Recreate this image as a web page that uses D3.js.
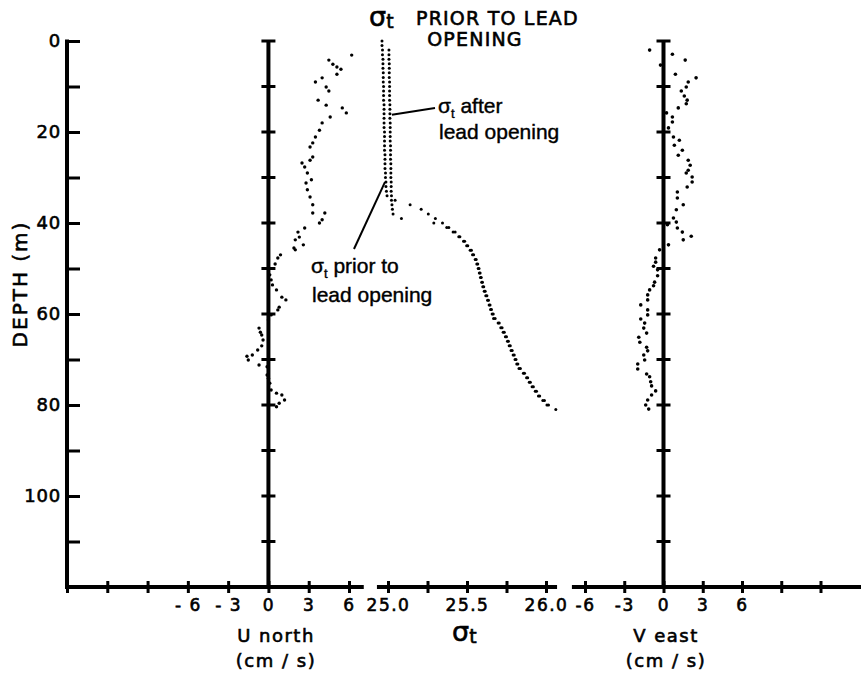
<!DOCTYPE html>
<html>
<head>
<meta charset="utf-8">
<script src="https://cdn.jsdelivr.net/npm/d3@7"></script>
<style>
  body { margin: 0; background: #fff; }
  svg { display: block; }
</style>
</head>
<body>
<svg id="chart" width="861" height="675"></svg>
<script>
// ---- axis ticks and labels ----
const depthTicks = [0, 10, 20, 30, 40, 50, 60, 70, 80, 90, 100, 110];
const depthLabels = [0, 20, 40, 60, 80, 100];
const uTicks = [-15, -12, -9, -6, -3, 0, 3, 6];
const uLabels = [-6, -3, 0, 3, 6];
const sigmaTicks = [25.0, 25.25, 25.5, 25.75, 26.0];
const sigmaLabels = [25.0, 25.5, 26.0];
const vTicks = [-6, -3, 0, 3, 6, 9, 12];
const vLabels = [-6, -3, 0, 3, 6];

// ---- northward current (cm/s) by depth (m) ----
const uDepth = [3.1, 4.2, 5.1, 5.7, 6.2, 7.3, 8.1, 9.0, 10.1, 11.0, 13.0, 14.1, 14.7, 15.8, 16.7,
  18.0, 19.6, 21.1, 22.4, 23.3, 25.5, 26.2, 26.8, 27.7, 29.0, 30.5, 31.2, 32.7, 34.3, 36.0,
  37.8, 37.8, 39.3, 40.0, 41.1, 42.0, 43.1, 43.7, 44.8, 45.5, 45.9, 47.0, 47.7, 49.0, 51.4,
  52.5, 53.6, 54.7, 56.3, 56.9, 58.5, 59.1, 60.2, 61.3, 63.1, 64.0, 64.6, 65.7, 67.0, 67.9,
  69.0, 69.3, 70.1, 71.2, 71.6, 73.4, 74.1, 75.2, 76.7, 77.4, 77.8, 78.9, 79.6, 80.4];
const uNorth = [6.2, 4.5, 4.8, 5.1, 5.4, 5.1, 4.0, 3.5, 4.3, 4.5, 3.7, 4.3, 5.5, 5.8, 4.6,
  4.0, 3.8, 3.5, 3.3, 3.1, 3.3, 3.1, 2.5, 2.7, 2.9, 3.2, 2.8, 2.9, 3.1, 3.3,
  3.3, 4.2, 4.0, 3.8, 2.7, 2.2, 2.3, 2.0, 2.6, 1.9, 2.0, 0.9, 0.7, 0.5, 0.1,
  0.2, 0.3, 0.6, 1.0, 1.3, 0.8, 0.7, 0.2, 0.0, -0.7, -0.6, -0.5, -0.4, -0.5, -0.8,
  -1.2, -1.6, -1.5, -0.7, -0.1, -0.1, 0.0, 0.1, 0.2, 0.6, 1.0, 1.2, 0.8, 0.6];

// ---- eastward current (cm/s) by depth (m) ----
const vDepth = [2.0, 2.9, 4.2, 5.3, 7.3, 8.1, 9.0, 10.1, 11.0, 12.1, 13.0, 13.8, 14.7, 15.8, 16.7,
  17.8, 19.1, 21.1, 21.8, 22.9, 24.0, 25.1, 26.2, 27.3, 28.4, 29.0, 29.9, 31.0, 32.1, 33.2,
  34.5, 36.0, 37.1, 38.9, 39.8, 40.4, 41.1, 42.0, 42.9, 43.7, 44.8, 45.9, 47.7, 48.6, 49.5,
  50.3, 51.6, 53.0, 53.8, 54.7, 55.8, 56.9, 58.0, 59.1, 60.2, 61.1, 62.0, 63.1, 64.2, 65.1,
  66.2, 67.3, 68.1, 69.0, 70.1, 71.0, 72.1, 73.2, 73.8, 74.9, 75.8, 76.9, 77.8, 78.9, 80.0, 80.9];
const vEast = [-1.06, 0.68, 1.66, -0.23, 0.91, 2.49, 1.89, 1.74, 1.36, 1.59, 1.81, 1.74, 1.13, 0.23, 0.68,
  0.68, 0.38, 0.76, 1.21, 0.83, 1.44, 1.13, 1.89, 2.04, 1.89, 1.74, 2.19, 2.19, 1.81, 1.06,
  1.06, 1.51, 0.98, 0.76, 0.98, 0.30, 1.06, 1.44, 2.12, 1.51, 0.38, -0.30, -0.60, -0.60, -0.76,
  -0.45, -0.45, -0.68, -0.76, -1.06, -1.21, -1.21, -1.74, -1.21, -1.21, -1.74, -1.44, -1.51, -1.29, -1.89,
  -1.81, -1.29, -1.21, -1.51, -1.44, -1.97, -1.97, -1.29, -1.06, -0.98, -0.91, -0.60, -0.91, -1.21, -1.36, -1.13];

// ---- sigma-t profiles by depth (m) ----
const sigmaPriorDepth = [0, 1, 2, 3, 4, 5, 6, 7, 8, 9, 10, 11, 12, 13, 14, 15, 16, 17, 18, 19,
  20, 21, 22, 23, 24, 25, 26, 27, 28, 29, 30, 31, 32, 33, 34, 35, 36, 37, 38, 39,
  40, 41, 42, 43, 44, 45, 46, 47, 48, 49, 50, 51, 52, 53, 54, 55, 56, 57, 58, 59,
  60, 61, 62, 63, 64, 65, 66, 67, 68, 69, 70, 71, 72, 73, 74, 75, 76, 77, 78, 79, 80];
const sigmaPrior = [24.962, 24.962, 24.965, 24.965, 24.968, 24.968, 24.968, 24.970, 24.970, 24.970,
  24.972, 24.972, 24.972, 24.972, 24.975, 24.975, 24.975, 24.975, 24.975, 24.975,
  24.978, 24.978, 24.978, 24.978, 24.978, 24.981, 24.981, 24.981, 24.981, 24.984,
  24.984, 24.987, 24.987, 24.990, 24.994, 25.045, 25.140, 25.210, 25.255, 25.300,
  25.345, 25.385, 25.425, 25.455, 25.485, 25.505, 25.528, 25.542, 25.558, 25.568,
  25.576, 25.583, 25.590, 25.598, 25.606, 25.615, 25.626, 25.636, 25.646, 25.655,
  25.666, 25.678, 25.704, 25.722, 25.736, 25.750, 25.762, 25.774, 25.786, 25.799,
  25.810, 25.822, 25.838, 25.864, 25.884, 25.901, 25.920, 25.940, 25.960, 25.990, 26.016];
const sigmaAfterDepth = [2, 3, 4, 5, 6, 7, 8, 9, 10, 11, 12, 13, 14, 15, 16, 17, 18, 19,
  20, 21, 22, 23, 24, 25, 26, 27, 28, 29, 30, 31, 32, 33, 34, 35, 36, 37, 38, 39,
  40, 41, 42, 43, 44, 45, 46, 47, 48, 49, 50, 51, 52, 53, 54, 55, 56, 57, 58, 59,
  60, 61, 62, 63, 64, 65, 66, 67, 68, 69, 70, 71, 72, 73, 74, 75, 76, 77, 78, 79, 80, 81];
const sigmaAfter = [25.006, 25.006, 25.006, 25.008, 25.008, 25.008, 25.008, 25.010,
  25.010, 25.010, 25.010, 25.010, 25.012, 25.012, 25.012, 25.012, 25.014, 25.014,
  25.014, 25.014, 25.014, 25.016, 25.016, 25.016, 25.016, 25.018, 25.018, 25.018,
  25.018, 25.020, 25.020, 25.020, 25.022, 25.022, 25.025, 25.028, 25.032, 25.085,
  25.290, 25.372, 25.412, 25.448, 25.478, 25.498, 25.520, 25.535, 25.552, 25.562,
  25.571, 25.578, 25.585, 25.593, 25.600, 25.609, 25.619, 25.630, 25.640, 25.649,
  25.659, 25.668, 25.697, 25.714, 25.729, 25.743, 25.756, 25.767, 25.779, 25.792,
  25.804, 25.815, 25.829, 25.857, 25.877, 25.894, 25.912, 25.932, 25.952, 25.980, 26.006, 26.062];

// ---- scales ----
const svg = d3.select("#chart");
const y = d3.scaleLinear().domain([0, 120]).range([41, 587]);
const xU = d3.scaleLinear().domain([-15, 6]).range([67, 349]);
const xS = d3.scaleLinear().domain([25.0, 26.0]).range([388, 546]);
const xV = d3.scaleLinear().domain([-6, 6]).range([585, 742]);

const LETTER = "'DejaVu Sans', sans-serif";
const HELV = "'Liberation Sans', Arial, sans-serif";

// lettering-guide text: slightly heavier strokes
function lettering(sel, size, spacing) {
  return sel.attr("font-family", LETTER)
    .attr("font-size", size)
    .attr("letter-spacing", spacing)
    .attr("fill", "#000")
    .attr("stroke", "#000")
    .attr("stroke-width", 0.6);
}

// ---- depth axis ----
const depthAxis = d3.axisLeft(y)
  .tickValues(depthTicks)
  .tickSize(-13)
  .tickPadding(6)
  .tickFormat(d => depthLabels.includes(d) ? String(d) : "");
const gDepth = svg.append("g").attr("transform", `translate(${xU(-15)},0)`).call(depthAxis);
gDepth.select(".domain").remove();
gDepth.selectAll(".tick line").attr("stroke", "#000").attr("stroke-width", 3);
lettering(gDepth.selectAll(".tick text"), 18, 0.8);
svg.append("line")
  .attr("x1", xU(-15)).attr("x2", xU(-15))
  .attr("y1", y(0) - 1.5).attr("y2", y(120) + 2)
  .attr("stroke", "#000").attr("stroke-width", 4);

// ---- bottom axes ----
function bottomAxis(scale, ticks, labels, fmt, x0, x1) {
  const ax = d3.axisBottom(scale)
    .tickValues(ticks)
    .tickSize(6)
    .tickPadding(6)
    .tickFormat(d => labels.includes(d) ? fmt(d) : "");
  const g = svg.append("g").attr("transform", `translate(0,${y(120)})`).call(ax);
  g.select(".domain").remove();
  g.selectAll(".tick line").attr("y1", -6).attr("y2", 6)
    .attr("stroke", "#000").attr("stroke-width", 3);
  lettering(g.selectAll(".tick text"), 17, 1.5);
  g.append("line")
    .attr("x1", x0).attr("x2", x1)
    .attr("stroke", "#000").attr("stroke-width", 4);
}
bottomAxis(xU, uTicks, uLabels, d => d < 0 ? "- " + Math.abs(d) : String(d), xU(-15) - 2, xU(7.1));
bottomAxis(xS, sigmaTicks, sigmaLabels, d3.format(".1f"), xS(24.93), xS(26.07));
bottomAxis(xV, vTicks, vLabels, d => d < 0 ? "-" + Math.abs(d) : String(d), xV(-7), 861);

// ---- zero reference lines with depth ticks ----
function zeroLine(xPos) {
  const g = svg.append("g");
  g.append("line")
    .attr("x1", xPos).attr("x2", xPos)
    .attr("y1", y(0) - 1).attr("y2", y(120))
    .attr("stroke", "#000").attr("stroke-width", 4);
  g.selectAll("line.tk").data(depthTicks).join("line")
    .attr("class", "tk")
    .attr("x1", xPos - 7).attr("x2", xPos + 7)
    .attr("y1", d => y(d)).attr("y2", d => y(d))
    .attr("stroke", "#000").attr("stroke-width", 3);
}
zeroLine(xU(0));
zeroLine(xV(0));

// ---- data dots ----
function dots(depths, values, xs, r) {
  svg.append("g").selectAll("circle").data(depths).join("circle")
    .attr("cx", (d, i) => xs(values[i]))
    .attr("cy", d => y(d))
    .attr("r", r)
    .attr("fill", "#000");
}
dots(uDepth, uNorth, xU, 1.7);
dots(vDepth, vEast, xV, 1.8);
dots(sigmaPriorDepth, sigmaPrior, xS, 1.5);
dots(sigmaAfterDepth, sigmaAfter, xS, 1.5);

// ---- annotations ----
svg.append("line")
  .attr("x1", xS(sigmaAfter[14]) + 2).attr("y1", y(sigmaAfterDepth[14]) + 1)
  .attr("x2", 435).attr("y2", 108)
  .attr("stroke", "#000").attr("stroke-width", 2);
svg.append("line")
  .attr("x1", xS(sigmaPrior[31]) - 1).attr("y1", y(sigmaPriorDepth[31]))
  .attr("x2", 354).attr("y2", 249)
  .attr("stroke", "#000").attr("stroke-width", 2);

function sigmaLabel(x, yb, rest, size) {
  const t = svg.append("text")
    .attr("x", x).attr("y", yb)
    .attr("font-family", HELV)
    .attr("font-size", size)
    .attr("fill", "#000")
    .attr("stroke", "#000").attr("stroke-width", 0.4);
  t.append("tspan").text("σ");
  t.append("tspan").attr("font-size", size * 0.62).attr("dy", 5).text("t");
  t.append("tspan").attr("dy", -5).text(rest);
}
function plainLabel(x, yb, s, size) {
  svg.append("text").attr("x", x).attr("y", yb)
    .attr("font-family", HELV).attr("font-size", size)
    .attr("fill", "#000").attr("stroke", "#000").attr("stroke-width", 0.4)
    .text(s);
}
sigmaLabel(438, 113, " after", 21);
plainLabel(439, 139, "lead opening", 21);
sigmaLabel(311, 273, " prior to", 21);
plainLabel(312, 302, "lead opening", 21);

// ---- headings ----
function sigmaTitle(x, yb) {
  const t = svg.append("text")
    .attr("x", x).attr("y", yb)
    .attr("font-family", LETTER)
    .attr("fill", "#000")
    .attr("stroke", "#000").attr("stroke-width", 0.6);
  t.append("tspan").attr("font-size", 27).text("σ");
  t.append("tspan").attr("font-size", 19).attr("dy", 2).text("t");
}
sigmaTitle(369, 26);
lettering(svg.append("text").attr("x", 416).attr("y", 25), 19, 1.2).text("PRIOR TO LEAD");
lettering(svg.append("text").attr("x", 475).attr("y", 46).attr("text-anchor", "middle"), 19, 1.2)
  .text("OPENING");

lettering(svg.append("text")
  .attr("transform", "translate(27,284) rotate(-90)")
  .attr("text-anchor", "middle"), 20, 2)
  .text("DEPTH (m)");

function axisTitle(x, lines) {
  lines.forEach((s, i) => {
    lettering(svg.append("text").attr("x", x).attr("y", 642 + i * 25)
      .attr("text-anchor", "middle"), 18, 1.5)
      .text(s);
  });
}
axisTitle(276, ["U north", "(cm / s)"]);
axisTitle(666, ["V east", "(cm / s)"]);
sigmaTitle(452, 641);
</script>
</body>
</html>
